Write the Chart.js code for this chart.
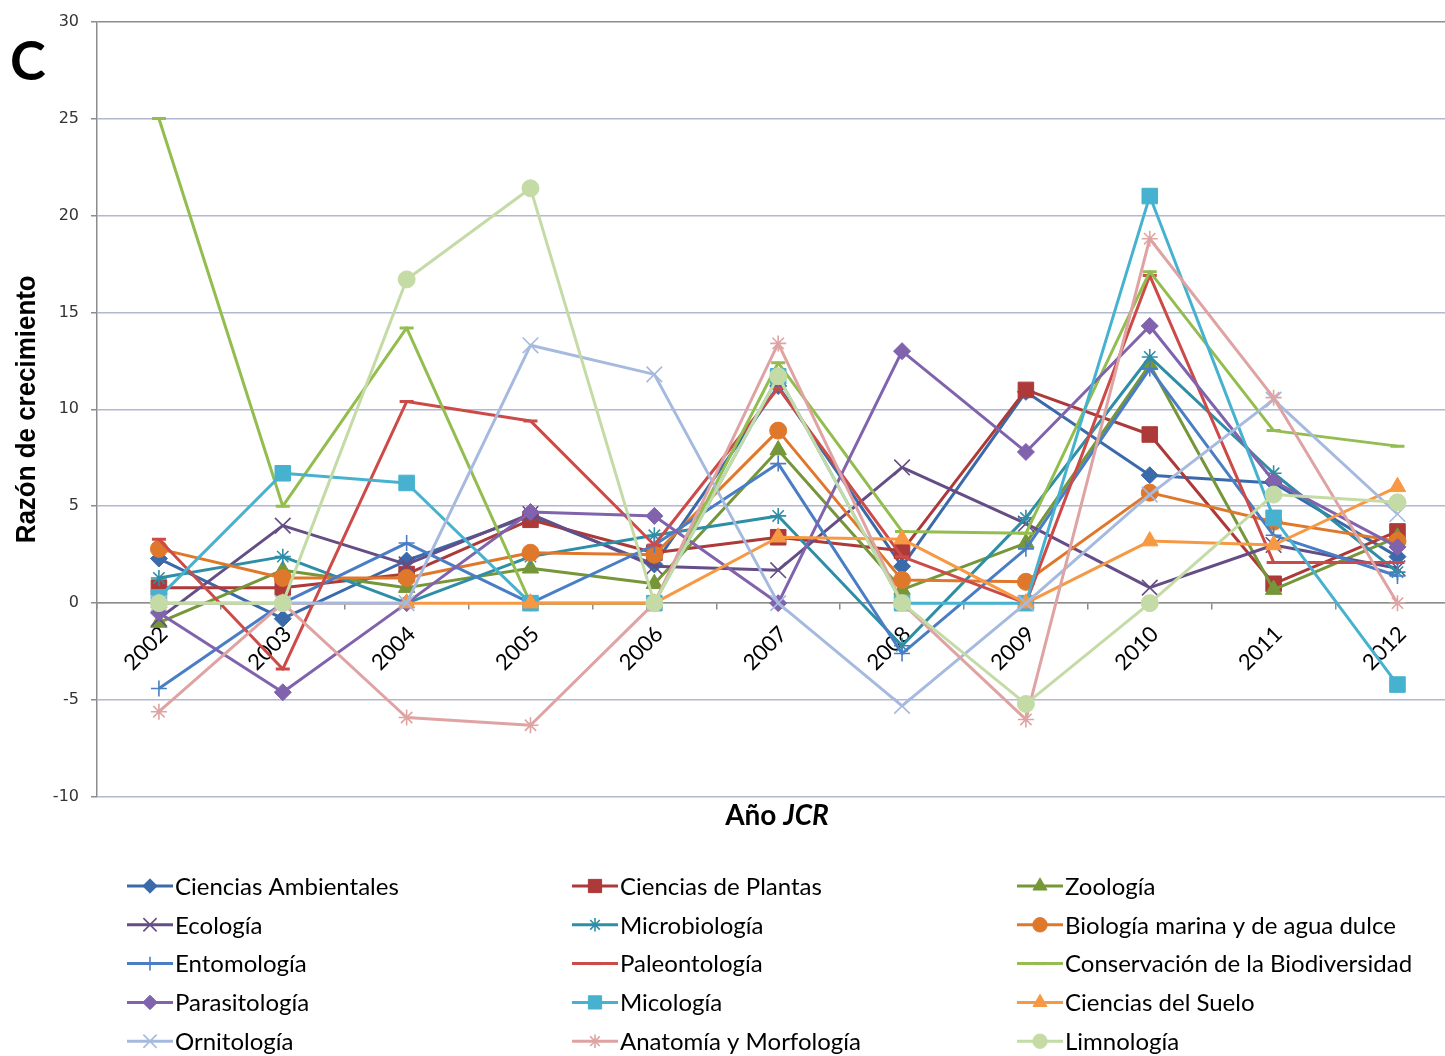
<!DOCTYPE html>
<html lang="es">
<head>
<meta charset="utf-8">
<title>Razón de crecimiento por área temática</title>
<script src="https://cdn.jsdelivr.net/npm/chart.js@4.4.1/dist/chart.umd.min.js"></script>
<style>
  html, body { margin: 0; padding: 0; background: #ffffff; overflow: hidden; }
  #wrap { position: relative; width: 1472px; height: 1056px; }
</style>
</head>
<body>
<div id="wrap"><canvas id="chart" width="1472" height="1056"></canvas></div>
<script>
// Años del JCR (eje de categorías)
const years = ['2002', '2003', '2004', '2005', '2006', '2007', '2008', '2009', '2010', '2011', '2012'];

// Ticks del eje vertical
const yTicks = [-10, -5, 0, 5, 10, 15, 20, 25, 30];

// Razón de crecimiento por área, un valor por año
const cienciasAmbientales = [2.3, -0.8, 2.2, 4.5, 2.0, 11.2, 1.9, 10.9, 6.6, 6.2, 2.4];
const cienciasPlantas     = [0.8, 0.8, 1.5, 4.3, 2.6, 3.4, 2.7, 11.0, 8.7, 1.0, 3.7];
const zoologia            = [-1.0, 1.7, 0.8, 1.8, 1.0, 7.9, 0.7, 3.1, 12.3, 0.7, 3.4];
const ecologia            = [-0.8, 4.0, 2.0, 4.6, 1.9, 1.7, 7.0, 4.1, 0.8, 3.0, 1.8];
const microbiologia       = [1.3, 2.4, 0, 2.4, 3.5, 4.5, -2.2, 4.4, 12.7, 6.7, 1.6];
const biologiaMarina      = [2.8, 1.3, 1.3, 2.6, 2.5, 8.9, 1.2, 1.1, 5.7, 4.2, 3.2];
const entomologia         = [-4.4, 0, 3.1, 0, 3.0, 7.2, -2.6, 2.8, 12.1, 3.5, 1.4];
const paleontologia       = [3.3, -3.4, 10.4, 9.4, 3.0, 11.1, 2.4, 0, 16.9, 2.1, 2.1];
const conservacion        = [25.0, 5.0, 14.2, 0, 0, 12.4, 3.7, 3.6, 17.1, 8.9, 8.1];
const parasitologia       = [-0.5, -4.6, 0, 4.7, 4.5, 0, 13.0, 7.8, 14.3, 6.3, 2.9];
const micologia           = [0.3, 6.7, 6.2, 0, 0, 11.7, 0, 0, 21.0, 4.4, -4.2];
const cienciasSuelo       = [0, 0, 0, 0, 0, 3.4, 3.3, 0, 3.2, 3.0, 6.0];
const ornitologia         = [0, 0, 0, 13.3, 11.8, 0, -5.3, 0, 5.6, 10.5, 4.6];
const anatomia            = [-5.6, 0, -5.9, -6.3, 0, 13.4, 0, -6.0, 18.8, 10.6, 0];
const limnologia          = [0, 0, 16.7, 21.4, 0, 11.7, 0, -5.2, 0, 5.6, 5.2];

// Nombres de las series (orden de la leyenda)
const seriesNames = [
  'Ciencias Ambientales', 'Ciencias de Plantas', 'Zoología',
  'Ecología', 'Microbiología', 'Biología marina y de agua dulce',
  'Entomología', 'Paleontología', 'Conservación de la Biodiversidad',
  'Parasitología', 'Micología', 'Ciencias del Suelo',
  'Ornitología', 'Anatomía y Morfología', 'Limnología'
];
const seriesValues = [
  cienciasAmbientales, cienciasPlantas, zoologia,
  ecologia, microbiologia, biologiaMarina,
  entomologia, paleontologia, conservacion,
  parasitologia, micologia, cienciasSuelo,
  ornitologia, anatomia, limnologia
];

// Estilo de cada serie: color, marcador, tamaño y grosor del marcador
const seriesStyles = [
  { color: '#3b6aab', marker: 'rectRot',  r: 8.5,  bw: 1 },
  { color: '#ad3a38', marker: 'rect',     r: 11,   bw: 1 },
  { color: '#76963a', marker: 'triangle', r: 9.5,  bw: 1 },
  { color: '#654d86', marker: 'crossRot', r: 11,   bw: 1.6 },
  { color: '#2e8ea6', marker: 'star',     r: 8,    bw: 1.6 },
  { color: '#e0782c', marker: 'circle',   r: 8.5,  bw: 1 },
  { color: '#4a7ec4', marker: 'cross',    r: 8,    bw: 1.6 },
  { color: '#cc4b48', marker: 'line',     r: 7,    bw: 3 },
  { color: '#93bd4f', marker: 'line',     r: 7,    bw: 3 },
  { color: '#8062ad', marker: 'rectRot',  r: 8.5,  bw: 1 },
  { color: '#46b2cf', marker: 'rect',     r: 11,   bw: 1 },
  { color: '#f79843', marker: 'triangle', r: 9.5,  bw: 1 },
  { color: '#a6badf', marker: 'crossRot', r: 11,   bw: 1.6 },
  { color: '#dea3a2', marker: 'star',     r: 8,    bw: 1.6 },
  { color: '#c4dba6', marker: 'circle',   r: 8.5,  bw: 1 }
];

const datasets = seriesNames.map((name, i) => ({
  label: name,
  data: seriesValues[i],
  borderColor: seriesStyles[i].color,
  backgroundColor: seriesStyles[i].color,
  borderWidth: 3,
  tension: 0,
  borderJoinStyle: 'round',
  pointStyle: seriesStyles[i].marker,
  pointRadius: seriesStyles[i].r,
  pointHoverRadius: seriesStyles[i].r,
  pointBorderWidth: seriesStyles[i].bw,
  pointBorderColor: seriesStyles[i].color,
  pointBackgroundColor: seriesStyles[i].color,
  order: seriesNames.length - 1 - i   // la última serie queda encima
}));

// Textos fijos: letra del panel, títulos de ejes y leyenda en tres columnas
const decorations = {
  id: 'decorations',
  afterDraw(chart) {
    const ctx = chart.ctx;
    const area = chart.chartArea;
    ctx.save();

    // Letra del panel
    ctx.fillStyle = '#000000';
    ctx.font = 'bold 54px Lato';
    ctx.textAlign = 'left';
    ctx.textBaseline = 'alphabetic';
    ctx.fillText('C', 10, 80);

    // Título del eje vertical (tipografía estrecha)
    const yTitle = 'Razón de crecimiento';
    ctx.save();
    ctx.translate(27, (area.top + area.bottom) / 2);
    ctx.rotate(-Math.PI / 2);
    ctx.font = 'bold 28px "Liberation Sans"';
    const tw = ctx.measureText(yTitle).width;
    ctx.scale(268 / tw, 1);
    ctx.textAlign = 'center';
    ctx.textBaseline = 'middle';
    ctx.fillText(yTitle, 0, 0);
    ctx.restore();

    // Título del eje horizontal: "Año" + "JCR" en cursiva
    const part1 = 'Año ';
    const part2 = 'JCR';
    ctx.font = 'bold 28px Lato';
    const w1 = ctx.measureText(part1).width;
    ctx.font = 'italic bold 28px Lato';
    const w2 = ctx.measureText(part2).width;
    const startX = 777 - (w1 + w2) / 2;
    ctx.textAlign = 'left';
    ctx.textBaseline = 'middle';
    ctx.font = 'bold 28px Lato';
    ctx.fillText(part1, startX, 816);
    ctx.font = 'italic bold 28px Lato';
    ctx.fillText(part2, startX + w1, 816);

    // Leyenda
    const colX = [127, 572, 1017];
    const rowY0 = 886, rowStep = 38.8;
    ctx.font = '24px Lato';
    chart.data.datasets.forEach((ds, i) => {
      const x0 = colX[i % 3];
      const y = rowY0 + Math.floor(i / 3) * rowStep;
      ctx.strokeStyle = ds.borderColor;
      ctx.lineWidth = 3;
      ctx.beginPath();
      ctx.moveTo(x0, y);
      ctx.lineTo(x0 + 46, y);
      ctx.stroke();
      ctx.fillStyle = ds.pointBackgroundColor;
      ctx.strokeStyle = ds.pointBorderColor;
      ctx.lineWidth = ds.pointBorderWidth;
      if (Chart.helpers && Chart.helpers.drawPoint) {
        Chart.helpers.drawPoint(ctx, {
          pointStyle: ds.pointStyle,
          radius: ds.pointRadius * 0.85,
          rotation: 0,
          borderWidth: ds.pointBorderWidth
        }, x0 + 23, y);
      }
      ctx.fillStyle = '#000000';
      ctx.textAlign = 'left';
      ctx.textBaseline = 'middle';
      ctx.fillText(ds.label, x0 + 48, y + 1);
    });

    ctx.restore();
  }
};

new Chart(document.getElementById('chart'), {
  type: 'line',
  data: { labels: years, datasets },
  options: {
    responsive: false,
    animation: false,
    devicePixelRatio: 1,
    layout: { padding: { top: 17, right: 2, bottom: 259, left: 0 } },
    plugins: {
      legend: { display: false },
      tooltip: { enabled: false },
      title: { display: false }
    },
    scales: {
      y: {
        type: 'linear',
        min: yTicks[0],
        max: yTicks[yTicks.length - 1],
        afterBuildTicks(scale) { scale.ticks = yTicks.map(v => ({ value: v })); },
        afterFit(scale) { scale.width = 97; },
        ticks: {
          font: { family: '"DejaVu Sans"', size: 16 },
          color: '#333333',
          padding: 12
        },
        grid: {
          color: ctx => (ctx.tick && ctx.tick.value === 30) ? '#8c8c8c' : '#b2b8cf',
          lineWidth: 1.5,
          drawTicks: true,
          tickLength: 6,
          tickColor: '#8c8c8c'
        },
        border: { color: '#8c8c8c', width: 1.5 }
      },
      x: {
        type: 'category',
        position: { y: 0 },
        offset: true,
        ticks: {
          font: { family: 'Lato', size: 22 },
          color: '#000000',
          minRotation: 45,
          maxRotation: 45,
          padding: 12,
          labelOffset: 5,
          autoSkip: false
        },
        grid: {
          display: true,
          drawOnChartArea: false,
          drawTicks: true,
          tickLength: 6,
          offset: true,
          color: '#8c8c8c',
          lineWidth: 1.5
        },
        border: { color: '#8c8c8c', width: 1.5 }
      }
    }
  },
  plugins: [decorations]
});
</script>
</body>
</html>
